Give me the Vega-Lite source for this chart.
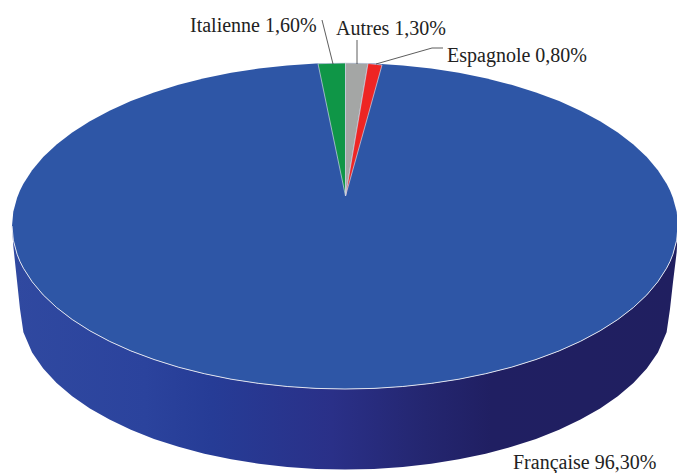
{"$schema":"https://vega.github.io/schema/vega-lite/v6.json","width":677,"height":473,"autosize":{"type":"none"},"padding":0,"background":"white","view":{"stroke":null},
"datasets":{
"disc":[
{"x":12,"top":226,"bot":226,"base":226},
{"x":13.3,"top":211.8,"bot":240.2,"base":246},
{"x":17.1,"top":197.7,"bot":254.3,"base":281.7},
{"x":20,"top":190.5,"bot":261.5,"base":309},
{"x":23.4,"top":183.8,"bot":268.2,"base":332.2},
{"x":32.1,"top":170.3,"bot":281.7,"base":352.4},
{"x":43.2,"top":157.1,"bot":294.9,"base":368.6},
{"x":56.6,"top":144.5,"bot":307.5,"base":383},
{"x":72.2,"top":132.5,"bot":319.5,"base":396.2},
{"x":89.9,"top":121.2,"bot":330.8,"base":408.4},
{"x":109.5,"top":110.7,"bot":341.3,"base":419.6},
{"x":130.9,"top":101.1,"bot":350.9,"base":429.7},
{"x":154,"top":92.5,"bot":359.5,"base":438.9},
{"x":178.5,"top":84.8,"bot":367.2,"base":446.8},
{"x":204.3,"top":78.3,"bot":373.7,"base":453.7},
{"x":231.1,"top":72.8,"bot":379.2,"base":459.3},
{"x":258.8,"top":68.6,"bot":383.4,"base":463.8},
{"x":287.2,"top":65.5,"bot":386.5,"base":466.9},
{"x":316,"top":63.6,"bot":388.4,"base":468.9},
{"x":345,"top":63,"bot":389,"base":469.5},
{"x":374,"top":63.6,"bot":388.4,"base":468.9},
{"x":402.8,"top":65.5,"bot":386.5,"base":466.9},
{"x":431.2,"top":68.6,"bot":383.4,"base":463.8},
{"x":458.9,"top":72.8,"bot":379.2,"base":459.3},
{"x":485.7,"top":78.3,"bot":373.7,"base":453.7},
{"x":511.5,"top":84.8,"bot":367.2,"base":446.8},
{"x":536,"top":92.5,"bot":359.5,"base":438.9},
{"x":559.1,"top":101.1,"bot":350.9,"base":429.7},
{"x":580.5,"top":110.7,"bot":341.3,"base":419.6},
{"x":600.1,"top":121.2,"bot":330.8,"base":408.4},
{"x":617.8,"top":132.5,"bot":319.5,"base":396.2},
{"x":633.4,"top":144.5,"bot":307.5,"base":383},
{"x":646.8,"top":157.1,"bot":294.9,"base":368.6},
{"x":657.9,"top":170.3,"bot":281.7,"base":352.4},
{"x":666.6,"top":183.8,"bot":268.2,"base":332.2},
{"x":670,"top":190.5,"bot":261.5,"base":309},
{"x":672.9,"top":197.7,"bot":254.3,"base":283},
{"x":676.7,"top":211.8,"bot":240.2,"base":252},
{"x":678,"top":226,"bot":226,"base":226}
],
"slices":[
{"nat":"Italienne","x":318,"a":63.7,"b":63.7},
{"nat":"Italienne","x":345.5,"a":63,"b":196},
{"nat":"Autres","x":345.5,"a":63,"b":196},
{"nat":"Autres","x":368,"a":63.5,"b":63.5},
{"nat":"Espagnole","x":345.5,"a":196,"b":196},
{"nat":"Espagnole","x":368,"a":63.5,"b":115.6},
{"nat":"Espagnole","x":382,"a":65,"b":65}
],
"leaders":[
{"nat":"Italienne","step":1,"x":322,"y":20},
{"nat":"Italienne","step":2,"x":333,"y":64},
{"nat":"Autres","step":1,"x":357,"y":40},
{"nat":"Autres","step":2,"x":357,"y":64},
{"nat":"Espagnole","step":1,"x":376,"y":64},
{"nat":"Espagnole","step":2,"x":432,"y":48},
{"nat":"Espagnole","step":3,"x":443,"y":48}
],
"labels":[
{"label":"Italienne 1,60%","x":190,"y":32},
{"label":"Autres 1,30%","x":336,"y":35},
{"label":"Espagnole 0,80%","x":447,"y":62},
{"label":"Française 96,30%","x":513,"y":468.5}
]},
"encoding":{
"x":{"field":"x","type":"quantitative","axis":null,"scale":{"domain":[0,677],"nice":false,"zero":false}}
},
"layer":[
{"data":{"name":"disc"},
"mark":{"type":"area","orient":"vertical","clip":true,"color":{"gradient":"linear","x1":0,"y1":0,"x2":1,"y2":0,"stops":[{"offset":0,"color":"#3049a0"},{"offset":0.2,"color":"#2b439d"},{"offset":0.3,"color":"#263c96"},{"offset":0.48,"color":"#2a3088"},{"offset":0.62,"color":"#242670"},{"offset":0.72,"color":"#201f62"},{"offset":1,"color":"#201f60"}]}},
"encoding":{"y":{"field":"bot","type":"quantitative","axis":null,"scale":{"domain":[473,0],"nice":false,"zero":false}},"y2":{"field":"base"}}},
{"data":{"name":"disc"},
"mark":{"type":"area","orient":"vertical","clip":true,"color":"#2e56a6"},
"encoding":{"y":{"field":"top","type":"quantitative","axis":null,"scale":{"domain":[473,0],"nice":false,"zero":false}},"y2":{"field":"bot"}}},
{"data":{"name":"disc"},
"mark":{"type":"line","clip":true,"color":"#dfe2ee","strokeWidth":1},
"encoding":{"y":{"field":"bot","type":"quantitative","axis":null,"scale":{"domain":[473,0],"nice":false,"zero":false}}}},
{"data":{"name":"slices"},
"mark":{"type":"area","orient":"vertical","clip":true,"stroke":"#cfd6e4","strokeWidth":0.7},
"encoding":{"y":{"field":"a","type":"quantitative","axis":null,"scale":{"domain":[473,0],"nice":false,"zero":false},"stack":null},"y2":{"field":"b"},
"color":{"field":"nat","type":"nominal","legend":null,"scale":{"domain":["Italienne","Autres","Espagnole"],"range":["#0f9647","#a4a6a5","#ee2524"]}}}},
{"data":{"name":"leaders"},
"mark":{"type":"line","color":"#333333","strokeWidth":0.8},
"encoding":{"y":{"field":"y","type":"quantitative","axis":null,"scale":{"domain":[473,0],"nice":false,"zero":false}},"detail":{"field":"nat"},"order":{"field":"step"}}},
{"data":{"name":"labels"},
"mark":{"type":"text","align":"left","baseline":"alphabetic","font":"Liberation Serif","fontSize":20,"color":"#222222"},
"encoding":{"y":{"field":"y","type":"quantitative","axis":null,"scale":{"domain":[473,0],"nice":false,"zero":false}},"text":{"field":"label"}}}
]}
